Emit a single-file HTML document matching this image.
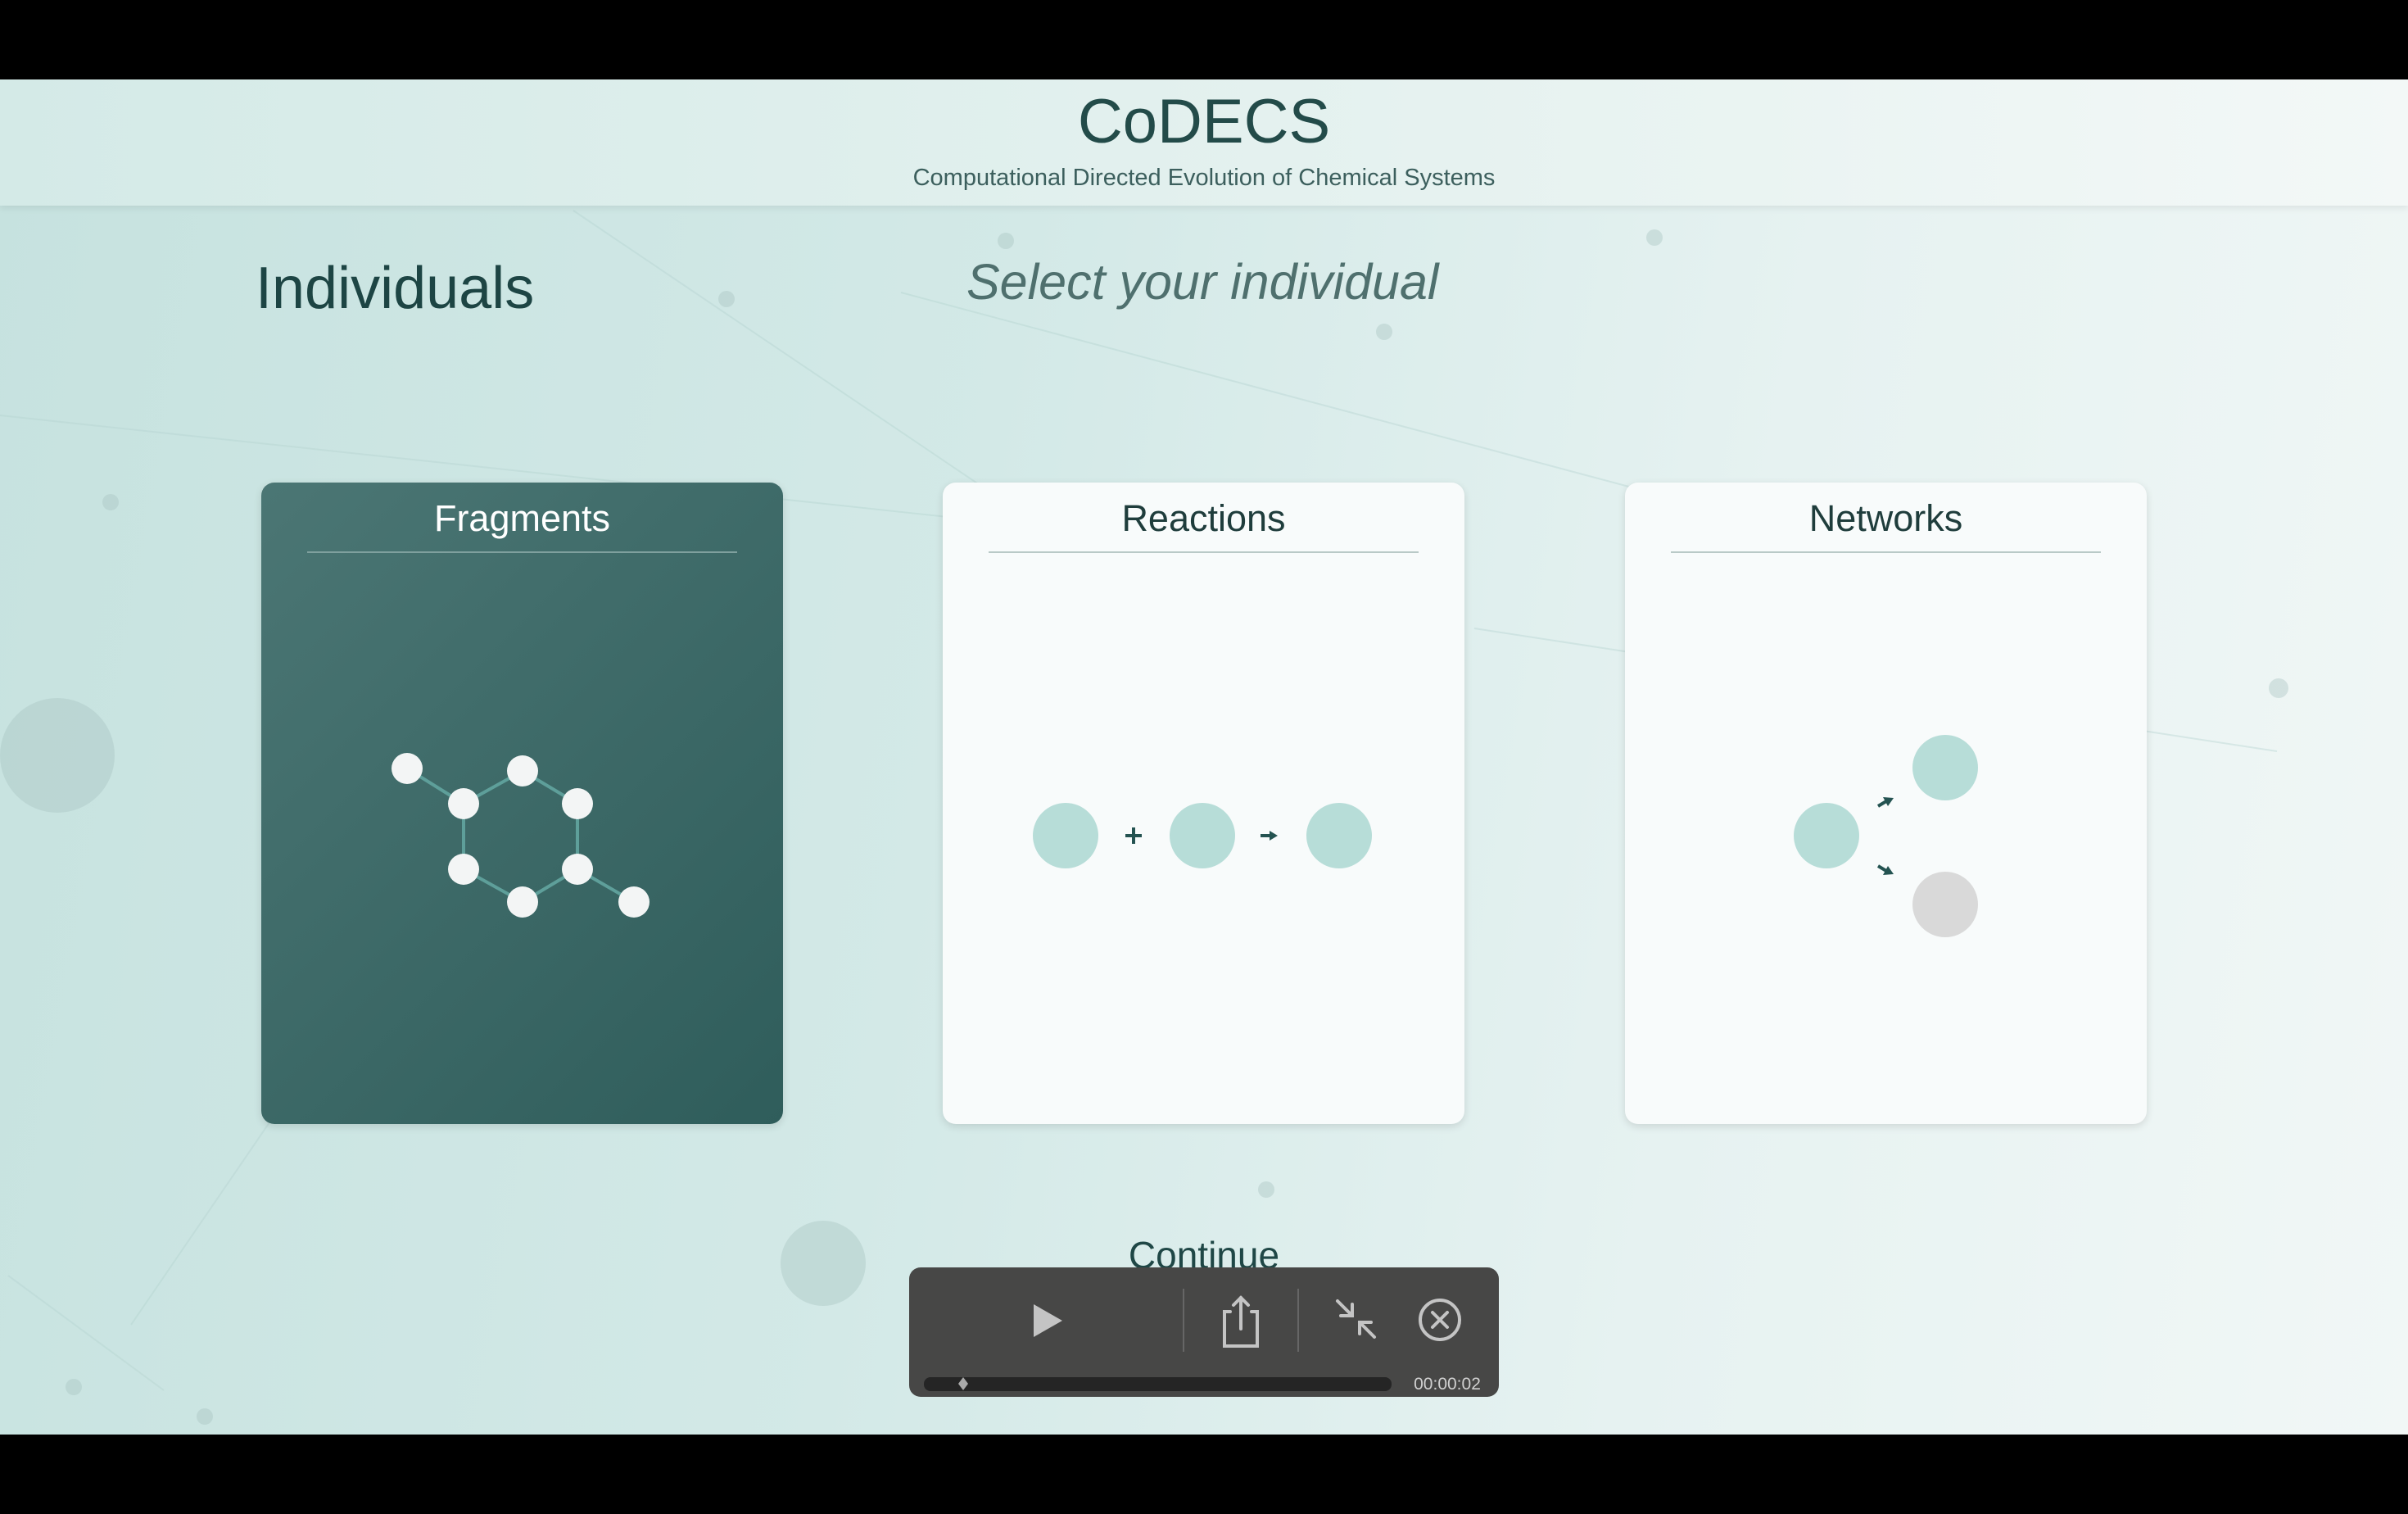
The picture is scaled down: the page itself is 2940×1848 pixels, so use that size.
<!DOCTYPE html>
<html><head><meta charset="utf-8"><style>
*{margin:0;padding:0;box-sizing:border-box}
html,body{width:2940px;height:1848px;overflow:hidden;background:#000;font-family:"Liberation Sans",sans-serif}
#main{position:absolute;left:0;top:97px;width:2940px;height:1654px;background:linear-gradient(100deg,#c6e2df 0%,#d3e9e7 40%,#e6f2f1 70%,#f1f7f6 100%);overflow:hidden}
#hdr{position:absolute;left:0;top:0;width:2940px;height:154px;background:linear-gradient(90deg,#d4eae7,#e6f2f0 60%,#f3f8f7);box-shadow:0 3px 8px rgba(0,0,0,0.08)}
.t{position:absolute;white-space:nowrap;color:#1f4746}
.card{position:absolute;top:492px;width:637px;height:783px;border-radius:16px;background:#f8fbfb;box-shadow:0 3px 10px rgba(0,0,0,0.12)}
.card .h{position:absolute;top:18px;left:0;width:100%;text-align:center;font-size:45px;color:#1f3d3c}
.card .ln{position:absolute;top:84px;left:56px;width:525px;height:2px;background:#b9c9c7}
</style></head><body>
<div id="main">
<svg width="2940" height="1654" style="position:absolute;left:0;top:0">
<g stroke="#b3d3cf" stroke-width="2" fill="none" opacity="0.4">
<line x1="0" y1="410" x2="1400" y2="560"/><line x1="700" y1="160" x2="1500" y2="700"/>
<line x1="160" y1="1520" x2="420" y2="1140"/><line x1="1800" y1="670" x2="2780" y2="820"/>
<line x1="10" y1="1460" x2="200" y2="1600"/><line x1="1100" y1="260" x2="2000" y2="500"/>
</g>
<g fill="#a8c4c1" opacity="0.4">
<circle cx="70" cy="825" r="70"/><circle cx="1005" cy="1445" r="52"/>
<circle cx="1228" cy="197" r="10"/><circle cx="2020" cy="193" r="10"/><circle cx="887" cy="268" r="10"/>
<circle cx="1690" cy="308" r="10"/><circle cx="135" cy="516" r="10"/><circle cx="2782" cy="743" r="12"/>
<circle cx="1546" cy="1355" r="10"/><circle cx="90" cy="1596" r="10"/><circle cx="250" cy="1632" r="10"/>
</g>
</svg>
<div id="hdr">
<div class="t" style="left:0;width:2940px;text-align:center;top:8px;font-size:76px;color:#234b49">CoDECS</div>
<div class="t" style="left:0;width:2940px;text-align:center;top:104px;font-size:29px;color:#3c5f5d">Computational Directed Evolution of Chemical Systems</div>
</div>
<div class="t" style="left:312px;top:214px;font-size:72px;color:#1d4544">Individuals</div>
<div class="t" style="left:1180px;top:212px;font-size:61px;font-style:italic;color:#4f706e">Select your individual</div>

<div class="card" style="left:319px;background:linear-gradient(135deg,#4b7674,#2f5d5b)">
<div class="h" style="color:#fff">Fragments</div><div class="ln" style="background:#7fa09e"></div>
</div>
<div class="card" style="left:1151px"><div class="h">Reactions</div><div class="ln"></div></div>
<div class="card" style="left:1984px"><div class="h">Networks</div><div class="ln"></div></div>

<svg width="2940" height="1654" style="position:absolute;left:0;top:0">
<g transform="translate(0,-97)">
<g stroke="#5e9f9a" stroke-width="4">
<line x1="497" y1="938" x2="566" y2="981"/><line x1="566" y1="981" x2="638" y2="941"/>
<line x1="638" y1="941" x2="705" y2="981"/><line x1="705" y1="981" x2="705" y2="1061"/>
<line x1="705" y1="1061" x2="638" y2="1101"/><line x1="638" y1="1101" x2="566" y2="1061"/>
<line x1="566" y1="1061" x2="566" y2="981"/><line x1="705" y1="1061" x2="774" y2="1101"/>
</g>
<g fill="#f3f5f5">
<circle cx="497" cy="938" r="19"/><circle cx="566" cy="981" r="19"/><circle cx="638" cy="941" r="19"/>
<circle cx="705" cy="981" r="19"/><circle cx="705" cy="1061" r="19"/><circle cx="638" cy="1101" r="19"/>
<circle cx="566" cy="1061" r="19"/><circle cx="774" cy="1101" r="19"/>
</g>
<g fill="#b7ddd8"><circle cx="1301" cy="1020" r="40"/><circle cx="1468" cy="1020" r="40"/><circle cx="1635" cy="1020" r="40"/>
<circle cx="2230" cy="1020" r="40"/><circle cx="2375" cy="937" r="40"/></g>
<circle cx="2375" cy="1104" r="40" fill="#d9d9d9"/>
<g stroke="#245351" stroke-width="4" fill="#245351">
<line x1="1374" y1="1020" x2="1394" y2="1020"/><line x1="1384" y1="1010" x2="1384" y2="1030"/>
<line x1="1539" y1="1020" x2="1552" y2="1020"/><polygon points="1550,1014 1560,1020 1550,1026" stroke="none"/>
<line x1="2293" y1="984" x2="2303" y2="978"/><polygon points="2299,973 2312,974 2305,984" stroke="none"/>
<line x1="2293" y1="1057" x2="2303" y2="1063"/><polygon points="2299,1068 2312,1067 2305,1057" stroke="none"/>
</g>
</g>
</svg>
<div class="t" style="left:0;width:2940px;text-align:center;top:1408px;font-size:46px;color:#1f4746">Continue</div>
</div>

<div style="position:absolute;left:1110px;top:1547px;width:720px;height:158px;border-radius:14px;background:#474746"></div>
<svg width="2940" height="1848" style="position:absolute;left:0;top:0">
<polygon points="1262,1592 1262,1632 1297,1612" fill="#c4c4c4"/>
<line x1="1445" y1="1573" x2="1445" y2="1650" stroke="#666" stroke-width="2"/>
<line x1="1585" y1="1573" x2="1585" y2="1650" stroke="#666" stroke-width="2"/>
<g stroke="#c4c4c4" stroke-width="4" fill="none" stroke-linecap="round">
<path d="M1502,1601 h-7 v42 h40 v-42 h-7"/><line x1="1515" y1="1584" x2="1515" y2="1622"/><path d="M1506,1593 l9,-9 l9,9"/>
<line x1="1633" y1="1588" x2="1651" y2="1606"/><path d="M1637,1606 h14 v-14"/>
<line x1="1678" y1="1632" x2="1660" y2="1614"/><path d="M1660,1628 v-14 h14"/>
<circle cx="1758" cy="1611" r="24"/><line x1="1749" y1="1602" x2="1767" y2="1620"/><line x1="1767" y1="1602" x2="1749" y2="1620"/>
</g>
<rect x="1128" y="1681" width="571" height="17" rx="8" fill="#252525"/>
<polygon points="1176,1681 1182,1689 1176,1697 1170,1689" fill="#aaa"/>
<text x="1767" y="1696" text-anchor="middle" font-family="Liberation Sans" font-size="21" fill="#d0d0d0">00:00:02</text>
</svg>
</body></html>
